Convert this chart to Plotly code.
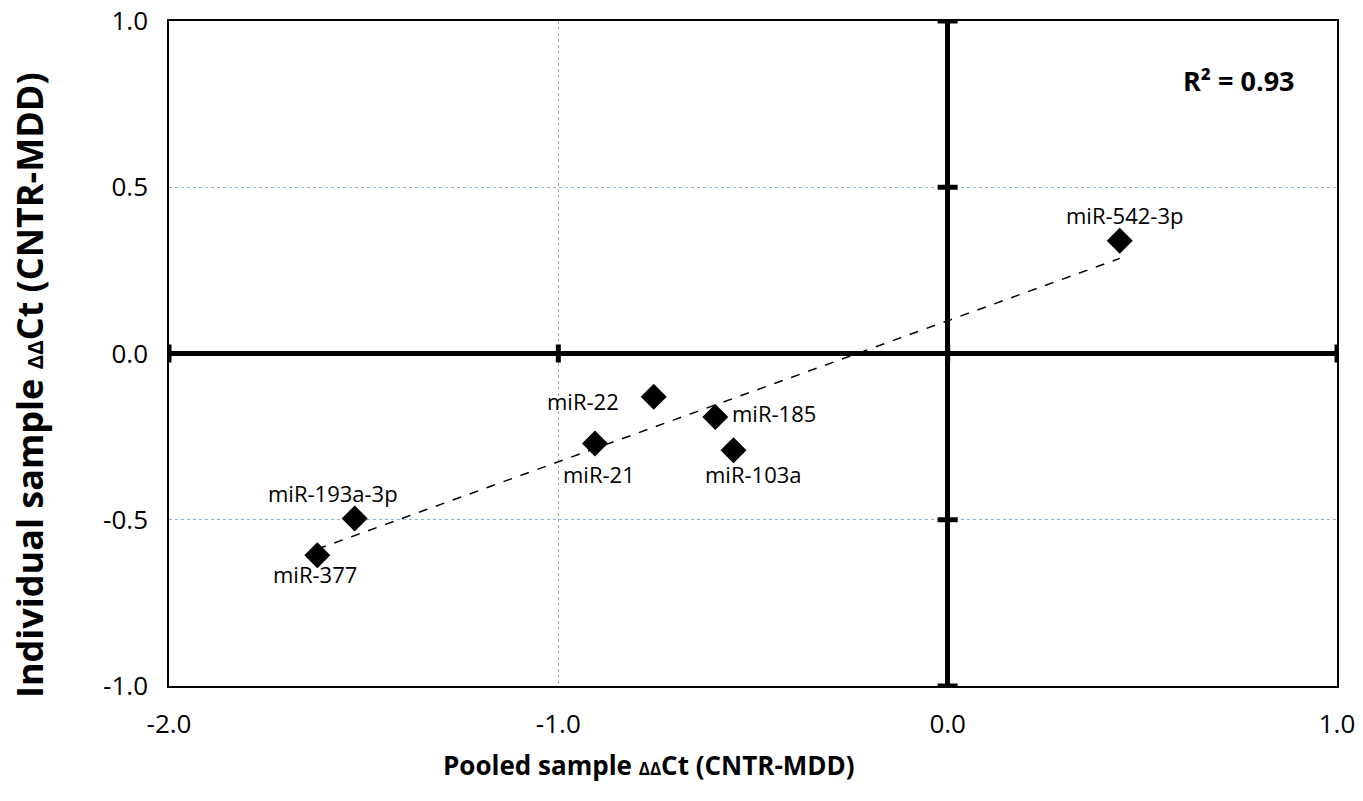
import numpy as np
import plotly.graph_objects as go

labels = ["miR-542-3p", "miR-22", "miR-185", "miR-21", "miR-103a", "miR-193a-3p", "miR-377"]
pooled = [0.442, -0.755, -0.597, -0.906, -0.550, -1.523, -1.619]
individual = [0.339, -0.130, -0.191, -0.271, -0.291, -0.496, -0.607]
x_ticks = [-2.0, -1.0, 0.0, 1.0]
y_ticks = [-1.0, -0.5, 0.0, 0.5, 1.0]
r2_text = "R² = 0.93"

# label offsets (pixels) for the data labels
label_offsets = {
    "miR-542-3p": (5, 26),
    "miR-22": (-71, -4),
    "miR-185": (59, 4),
    "miR-21": (4, -30),
    "miR-103a": (20, -24),
    "miR-193a-3p": (-22, 25),
    "miR-377": (-2, -19),
}

FONT = "Open Sans"

fig = go.Figure()

# linear trend line from the data
xa = np.array(pooled)
ya = np.array(individual)
slope, intercept = np.polyfit(xa, ya, 1)
xl = np.array([xa.min(), xa.max()])
fig.add_trace(go.Scatter(
    x=xl, y=slope * xl + intercept, mode="lines",
    line=dict(color="black", width=1.5, dash="dash"),
    hoverinfo="skip", showlegend=False))

fig.add_trace(go.Scatter(
    x=pooled, y=individual, mode="markers",
    marker=dict(symbol="diamond", size=20, color="black", line=dict(width=0)),
    text=labels, showlegend=False))

annotations = []
for lab, xv, yv in zip(labels, pooled, individual):
    dx, dy = label_offsets[lab]
    annotations.append(dict(
        x=xv, y=yv, text=lab, showarrow=False, xshift=dx, yshift=dy,
        font=dict(family=FONT, size=22, color="black")))

annotations.append(dict(
    xref="paper", yref="paper", x=(1297 - 169) / 1168, y=(686 - 80) / 665,
    xanchor="right", yanchor="middle",
    text="<b>" + r2_text + "</b>", showarrow=False,
    font=dict(family=FONT, size=27, color="black")))

# axis titles
annotations.append(dict(
    xref="paper", yref="paper", x=(649 - 169) / 1168, y=(686 - 765) / 665,
    xanchor="center", yanchor="middle",
    text="<b>Pooled sample <span style='font-size:17px'>ΔΔ</span>Ct (CNTR-MDD)</b>",
    showarrow=False, font=dict(family=FONT, size=26, color="black")))
annotations.append(dict(
    xref="paper", yref="paper", x=(30 - 169) / 1168, y=(686 - 385) / 665,
    xanchor="center", yanchor="middle",
    text="<b>Individual sample <span style='font-size:22px'>ΔΔ</span>Ct (CNTR-MDD)</b>",
    textangle=-90, showarrow=False, font=dict(family=FONT, size=36, color="black")))

# tick marks on the thick zero axes
shapes = []
for xv in x_ticks:
    shapes.append(dict(type="line", xref="x", yref="y", x0=xv, x1=xv,
                       ysizemode="pixel", yanchor=0, y0=-9, y1=9,
                       line=dict(color="black", width=5)))
for yv in y_ticks:
    shapes.append(dict(type="line", xref="x", yref="y", y0=yv, y1=yv,
                       xsizemode="pixel", xanchor=0, x0=-10, x1=10,
                       line=dict(color="black", width=5)))

fig.update_layout(
    width=1363, height=801,
    margin=dict(l=169, r=26, t=21, b=115),
    paper_bgcolor="white", plot_bgcolor="white",
    annotations=annotations, shapes=shapes,
    font=dict(family=FONT, color="black"),
    xaxis=dict(
        range=[-2, 1], tickvals=x_ticks, ticktext=[f"{v:.1f}" for v in x_ticks],
        showgrid=True, gridcolor="#a6a6a6", gridwidth=1, griddash="dot",
        zeroline=True, zerolinecolor="black", zerolinewidth=5,
        showline=True, mirror=True, linecolor="black", linewidth=1.5,
        ticks="", tickfont=dict(family=FONT, size=26, color="black"),
        ticklabelstandoff=14, ticklabeloverflow="allow", automargin=False),
    yaxis=dict(
        range=[-1, 1], tickvals=y_ticks, ticktext=[f"{v:.1f}" for v in y_ticks],
        showgrid=True, gridcolor="#8fb2e0", gridwidth=1, griddash="dot",
        zeroline=True, zerolinecolor="black", zerolinewidth=5,
        showline=True, mirror=True, linecolor="black", linewidth=1.5,
        ticks="", tickfont=dict(family=FONT, size=26, color="black"),
        ticklabelstandoff=14, ticklabeloverflow="allow", automargin=False),
)

fig.write_html(
    "out.html",
    config={"displayModeBar": False},
    post_script="document.body.style.margin='0';document.body.style.overflow='hidden';")
